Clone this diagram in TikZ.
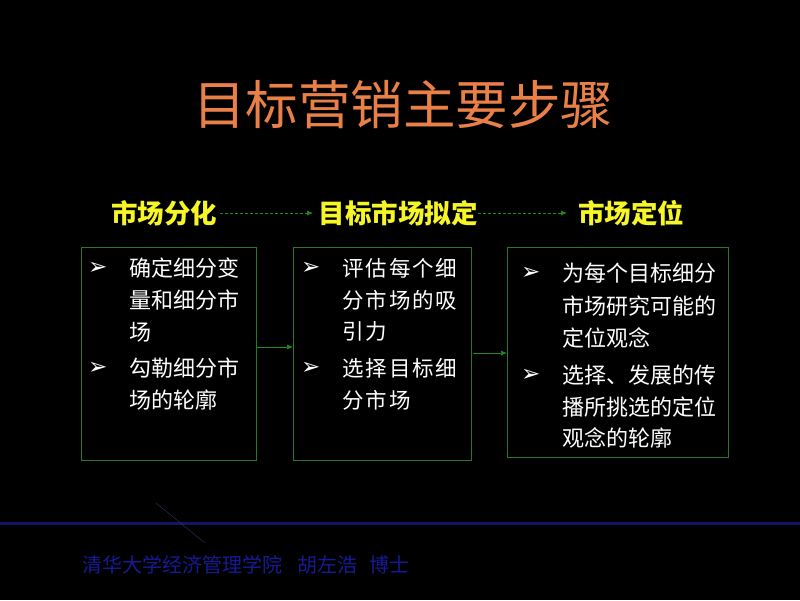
\documentclass[tikz,border=0pt]{standalone}
\usepackage{fontspec}
\setmainfont{Noto Sans CJK SC}
\newfontfamily\symfont{DejaVu Sans}
\usetikzlibrary{arrows.meta}
\definecolor{titleor}{RGB}{232,128,72}
\definecolor{headyel}{RGB}{245,245,40}
\definecolor{boxgreen}{RGB}{40,120,40}
\definecolor{arrgreen}{RGB}{30,140,30}
\definecolor{footblue}{RGB}{25,25,150}
\definecolor{lineblue}{RGB}{20,20,100}
\tikzset{
  stepbox/.style={draw=boxgreen, line width=0.9pt, inner sep=0pt},
  head/.style={text=headyel, font=\fontsize{26.5}{30}\selectfont\bfseries, inner sep=0pt},
  line/.style={text=white, font=\fontsize{22}{25}\selectfont, anchor=west, inner sep=0pt},
  wline/.style={line, font=\fontsize{21.5}{24}\selectfont\addfontfeature{LetterSpace=9}},
  bul/.style={text=white, font=\symfont\fontsize{23}{26}\selectfont, anchor=west, inner sep=0pt},
  flow/.style={draw=arrgreen, line width=0.7pt, -{Latex[length=6pt,width=5pt]}},
  dflow/.style={draw=arrgreen, line width=0.7pt, dashed, dash pattern=on 3pt off 2pt, -{Latex[length=6pt,width=5pt]}}
}
\begin{document}
\begin{tikzpicture}[x=1pt,y=-1pt]
\fill[black] (0,0) rectangle (800,600);
\useasboundingbox (0,0) rectangle (800,600);

% title
\node[text=titleor, font=\fontsize{52.5}{58}\selectfont, inner sep=0pt] (title) at (403,105) {目标营销主要步骤};

% headers
\node[head] (h1) at (164,213) {市场分化};
\node[head] (h2) at (398,213) {目标市场拟定};
\node[head] (h3) at (631,213) {市场定位};
\draw[dflow] (h1.east) ++(3,0) coordinate (h1e) -- (h1e -| 313,0);
\draw[dflow] (h2.east) ++(0,0) coordinate (h2e) -- (h2e -| 567,0);

% boxes
\node[stepbox, anchor=north west, minimum width=175pt, minimum height=213pt] (b1) at (81,247) {};
\node[stepbox, anchor=north west, minimum width=178pt, minimum height=213pt] (b2) at (293,247) {};
\node[stepbox, anchor=north west, minimum width=221pt, minimum height=210pt] (b3) at (507,247) {};

\coordinate (a1s) at (256,347);
\coordinate (a1e) at (293,347);
\draw[flow] (a1s) -- (a1e);
\coordinate (a2s) at (473,353);
\coordinate (a2e) at (507,353);
\draw[flow] (a2s) -- (a2e);

% box 1 text
\node[bul] (b1p1) at (88,268) {➢};
\node[line] (b1l1) at (129,268) {确定细分变};
\node[line] (b1l2) at (129,300) {量和细分市};
\node[line] (b1l3) at (129,332) {场};
\node[bul] (b1p2) at (88,368) {➢};
\node[line] (b1l4) at (129,368) {勾勒细分市};
\node[line] (b1l5) at (129,400) {场的轮廓};

% box 2 text
\node[bul] (b2p1) at (301,268) {➢};
\node[wline] (b2l1) at (342,268) {评估每个细};
\node[wline] (b2l2) at (342,300) {分市场的吸};
\node[wline] (b2l3) at (342,331) {引力};
\node[bul] (b2p2) at (301,368) {➢};
\node[wline] (b2l4) at (342,368) {选择目标细};
\node[wline] (b2l5) at (342,400) {分市场};

% box 3 text
\node[bul] (b3p1) at (521,273) {➢};
\node[line] (b3l1) at (562,273) {为每个目标细分};
\node[line] (b3l2) at (562,306) {市场研究可能的};
\node[line] (b3l3) at (562,338) {定位观念};
\node[bul] (b3p2) at (521,375) {➢};
\node[line] (b3l4) at (562,375) {选择、发展的传};
\node[line] (b3l5) at (562,407) {播所挑选的定位};
\node[line] (b3l6) at (562,438) {观念的轮廓};

% footer
\coordinate (fl1) at (0,523);
\coordinate (fl2) at (800,523);
\draw[lineblue, line width=3pt] (fl1) -- (fl2);
\coordinate (fd1) at (156,503);
\coordinate (fd2) at (205,543);
\draw[lineblue!70!gray, line width=0.4pt] (fd1) -- (fd2);
\node[text=footblue, font=\fontsize{20}{23}\selectfont, anchor=west, inner sep=0pt] (foot) at (82,565) {清华大学经济管理学院\hspace{15pt}胡左浩\hspace{12pt}博士};
\end{tikzpicture}
\end{document}
